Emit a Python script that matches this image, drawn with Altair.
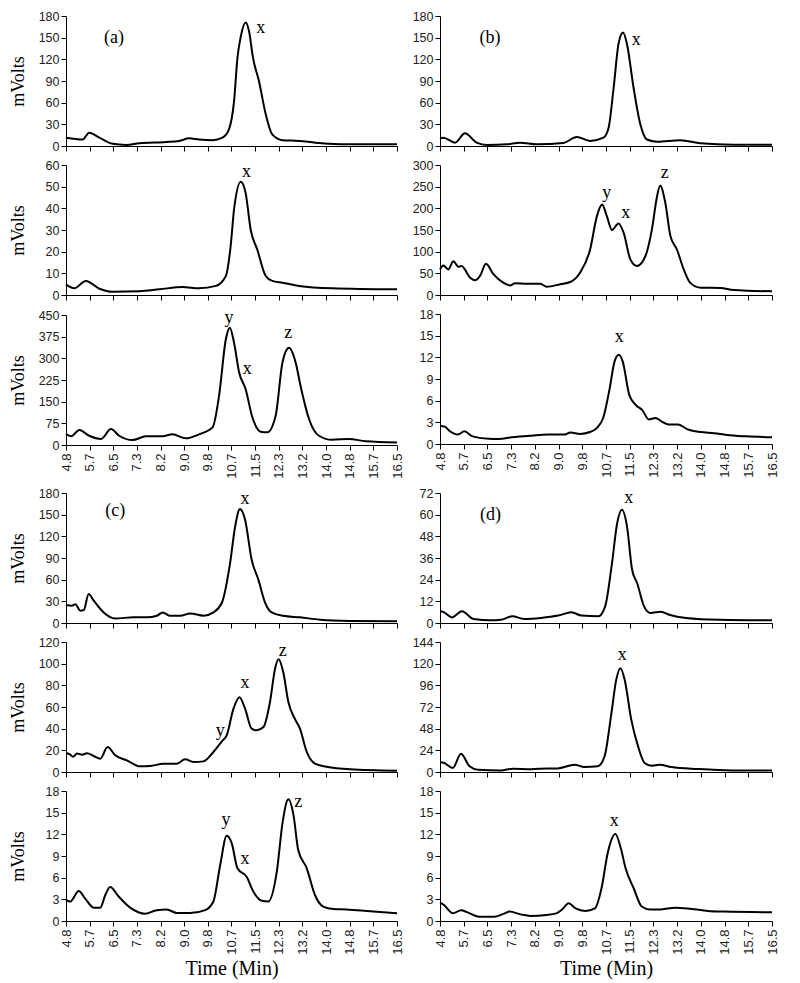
import altair as alt
import pandas as pd

# ---------------- data ----------------
X_LABELS = ["4.8", "5.7", "6.5", "7.3", "8.2", "9.0", "9.8", "10.7",
            "11.5", "12.3", "13.2", "14.0", "14.8", "15.7", "16.5"]
X_MIN, X_MAX = 4.8, 16.5

a1_t = [4.8, 5.39, 5.62, 5.98, 6.45, 6.92, 7.39, 8.33, 8.8, 9.15, 9.5, 9.98, 10.33, 10.56, 10.74, 10.86, 10.98, 11.15, 11.27, 11.41, 11.62, 11.86, 12.09, 12.45, 13.04, 13.62, 14.8, 16.5]
a1_v = [11.5, 9, 18.5, 11.5, 3, 1.5, 3.7, 5.5, 7, 10.6, 9, 8, 11.5, 23, 62, 122, 152, 171, 159, 122, 90, 44, 16, 8, 7, 4.6, 2.3, 2.3]

a2_t = [4.8, 5.09, 5.5, 5.98, 6.45, 7.39, 8.1, 8.92, 9.5, 10.1, 10.45, 10.62, 10.74, 10.98, 11.15, 11.33, 11.56, 11.86, 12.09, 12.45, 13.04, 14.21, 16.5]
a2_v = [4.9, 3.1, 6.5, 2.9, 1.5, 1.7, 2.6, 3.7, 3.1, 4.2, 8.8, 22.6, 39.5, 52.3, 47, 30, 21, 8.8, 6.5, 5.7, 4.2, 3.1, 2.6]

a3_t = [4.8, 4.98, 5.27, 5.62, 6.04, 6.39, 6.68, 7.15, 7.62, 8.21, 8.56, 9.04, 9.5, 9.98, 10.21, 10.45, 10.59, 10.74, 10.92, 11.15, 11.39, 11.68, 11.92, 12.21, 12.45, 12.68, 12.92, 13.09, 13.39, 13.74, 14.21, 14.8, 15.39, 16.5]
a3_v = [38, 30, 52, 32, 21, 55, 32, 17, 30, 30, 37, 23, 37, 61, 170, 366, 406, 354, 251, 193, 95, 46, 44, 101, 285, 337, 285, 205, 90, 32, 18, 21, 13, 9]

b1_t = [4.8, 4.92, 5.33, 5.68, 6.09, 6.45, 7.15, 7.62, 8.21, 9.15, 9.62, 10.09, 10.56, 10.74, 10.92, 11.09, 11.25, 11.39, 11.62, 11.86, 12.09, 12.45, 13.27, 13.98, 15.15, 16.5]
b1_v = [10.6, 11.5, 4.6, 17.5, 4.6, 1.4, 2.3, 4.6, 2.3, 4.2, 12.5, 7, 11.5, 25, 81, 141, 157, 141, 81, 30, 9, 6, 8, 3.7, 1.8, 1.8]

b2_t = [4.8, 4.92, 5.09, 5.27, 5.45, 5.56, 5.86, 6.04, 6.21, 6.42, 6.68, 7.04, 7.27, 7.45, 7.86, 8.33, 8.56, 9.04, 9.39, 9.74, 10.09, 10.33, 10.51, 10.68, 10.86, 11.09, 11.27, 11.51, 11.74, 12.04, 12.27, 12.45, 12.56, 12.74, 12.92, 13.15, 13.39, 13.62, 13.98, 14.68, 15.15, 16.5]
b2_v = [59, 68, 59, 78, 65, 67, 40, 34, 44, 72, 48, 28, 22, 27, 26, 26, 19, 25, 30, 52, 105, 182, 209, 182, 150, 165, 144, 82, 67, 90, 152, 228, 252, 213, 136, 105, 59, 28, 17, 16, 11.5, 8.5]

b3_t = [4.8, 4.97, 5.14, 5.43, 5.66, 5.95, 6.52, 6.87, 7.33, 8.02, 8.59, 9.17, 9.4, 9.74, 10.09, 10.32, 10.55, 10.78, 10.95, 11.1, 11.24, 11.47, 11.7, 11.93, 12.16, 12.39, 12.62, 12.85, 13.19, 13.54, 14.0, 14.46, 14.91, 15.6, 16.5]
b3_v = [2.5, 2.4, 1.8, 1.3, 1.75, 1.06, 0.74, 0.7, 0.92, 1.15, 1.3, 1.3, 1.6, 1.4, 1.66, 2.2, 3.6, 7.7, 11.4, 12.35, 11.4, 6.8, 5.4, 4.7, 3.4, 3.6, 3.1, 2.7, 2.7, 2.0, 1.66, 1.5, 1.25, 1.06, 0.92]

c1_t = [4.8, 5.01, 5.13, 5.31, 5.43, 5.6, 5.78, 6.13, 6.54, 7.19, 7.66, 8.01, 8.22, 8.48, 8.84, 9.19, 9.66, 10.01, 10.31, 10.6, 10.78, 10.95, 11.13, 11.36, 11.6, 11.84, 12.07, 12.48, 13.07, 13.78, 14.84, 16.5]
c1_v = [24.8, 24, 26, 17, 18, 40, 31, 14.7, 6.4, 7.8, 7.8, 10, 14.7, 10, 10, 13.3, 10, 14.7, 28, 83, 134, 158, 143, 88, 60, 28, 14.7, 10, 7.8, 4.6, 2.8, 2.3]

c2_t = [4.8, 4.95, 5.05, 5.19, 5.37, 5.54, 5.78, 6.01, 6.27, 6.54, 6.95, 7.42, 7.77, 8.25, 8.72, 9.01, 9.31, 9.66, 10.01, 10.31, 10.48, 10.72, 10.93, 11.13, 11.36, 11.54, 11.78, 12.01, 12.19, 12.31, 12.48, 12.66, 12.89, 13.07, 13.31, 13.6, 14.01, 14.84, 16.5]
c2_v = [17.5, 16, 14, 17, 16, 17.2, 14.8, 12.3, 23, 15.4, 10.8, 5.2, 5.5, 7.7, 7.7, 11.7, 9.2, 9.8, 18.5, 28.3, 33.8, 58.5, 69, 58.5, 40, 38.5, 41.5, 64.6, 95.4, 104, 92, 64.6, 49, 40, 18.5, 7.7, 4.9, 2.5, 1.2]

c3_t = [4.8, 4.95, 5.25, 5.48, 5.78, 6.01, 6.19, 6.36, 6.66, 7.07, 7.6, 8.01, 8.36, 8.72, 9.19, 9.72, 10.01, 10.25, 10.48, 10.66, 10.86, 11.19, 11.42, 11.72, 11.95, 12.25, 12.46, 12.66, 12.84, 13.01, 13.31, 13.6, 13.89, 14.25, 14.72, 15.43, 16.5]
c3_v = [2.9, 2.7, 4.15, 3.1, 1.85, 1.85, 3.6, 4.7, 3.4, 1.85, 1.0, 1.5, 1.6, 1.1, 1.1, 1.5, 2.7, 7.75, 11.8, 10.75, 7.3, 6.1, 4.1, 2.8, 2.7, 6.8, 13.75, 16.85, 14.7, 9.8, 7.3, 3.6, 2.0, 1.66, 1.6, 1.4, 1.06]

d1_t = [4.8, 4.92, 5.22, 5.57, 5.99, 6.58, 6.94, 7.35, 7.77, 8.36, 8.96, 9.43, 9.79, 10.38, 10.62, 10.86, 11.04, 11.21, 11.39, 11.57, 11.75, 11.99, 12.22, 12.58, 12.88, 13.47, 14.66, 16.5]
d1_v = [6.5, 6.1, 3.1, 6.5, 2.2, 1.5, 1.8, 3.7, 2.2, 2.8, 4.1, 5.9, 4.1, 3.7, 9.2, 33, 55, 62.7, 53.5, 29.5, 22, 9.2, 5.5, 6.3, 4.6, 2.8, 1.8, 1.5]

d2_t = [4.8, 4.95, 5.25, 5.54, 5.84, 6.13, 6.95, 7.36, 8.01, 8.6, 8.95, 9.54, 9.89, 10.36, 10.6, 10.84, 11.01, 11.16, 11.31, 11.54, 11.78, 12.01, 12.25, 12.54, 12.95, 13.89, 15.07, 16.5]
d2_v = [10.7, 10, 4.4, 20.3, 6.3, 2.6, 1.8, 3.7, 3, 4, 4, 8.1, 5.5, 6.3, 17.4, 65, 102, 115, 102, 58, 28.4, 10, 7, 8.1, 5.5, 3.3, 1.8, 1.8]

d3_t = [4.8, 4.91, 5.26, 5.54, 5.77, 6.17, 6.73, 7.08, 7.25, 7.64, 7.99, 8.55, 8.9, 9.12, 9.33, 9.58, 9.92, 10.26, 10.49, 10.72, 10.98, 11.17, 11.34, 11.63, 11.91, 12.19, 12.54, 13.1, 13.67, 14.24, 14.8, 16.5]
d3_v = [2.5, 2.3, 1.06, 1.5, 1.2, 0.6, 0.6, 1.06, 1.3, 0.92, 0.7, 0.83, 1.06, 1.66, 2.45, 1.75, 1.4, 1.75, 4.5, 9.6, 12.05, 10.1, 7.3, 4.5, 2.0, 1.6, 1.6, 1.85, 1.66, 1.4, 1.3, 1.2]

# y-axis maximum and tick step of each panel
Y_MAX = {"a1": 180, "a2": 60, "a3": 450, "b1": 180, "b2": 300, "b3": 18,
         "c1": 180, "c2": 120, "c3": 18, "d1": 72, "d2": 144, "d3": 18}
Y_STEP = {"a1": 30, "a2": 10, "a3": 75, "b1": 30, "b2": 50, "b3": 3,
          "c1": 30, "c2": 20, "c3": 3, "d1": 12, "d2": 24, "d3": 3}

# peak annotations: (time, value, label)
NOTES = {
    "a1": [(11.68, 164, "x")],
    "a2": [(11.18, 57, "x")],
    "a3": [(10.56, 440, "y"), (11.21, 262, "x"), (12.66, 388, "z")],
    "b1": [(11.72, 147, "x")],
    "b2": [(10.68, 236, "y"), (11.35, 190, "x"), (12.72, 282, "z")],
    "b3": [(11.12, 14.8, "x")],
    "c1": [(11.13, 172, "x")],
    "c2": [(10.25, 38, "y"), (11.13, 82, "x"), (12.46, 112, "z")],
    "c3": [(10.46, 14.0, "y"), (11.13, 8.6, "x"), (13.01, 16.5, "z")],
    "d1": [(11.45, 69, "x")],
    "d2": [(11.22, 130, "x")],
    "d3": [(10.94, 13.9, "x")],
}
# panel tags: (time, value, label)
TAGS = {"a1": (6.5, 150, "(a)"), "b1": (6.56, 150, "(b)"),
        "c1": (6.54, 155, "(c)"), "d1": (6.58, 60, "(d)")}

SERIES = {"a1": (a1_t, a1_v), "a2": (a2_t, a2_v), "a3": (a3_t, a3_v),
          "b1": (b1_t, b1_v), "b2": (b2_t, b2_v), "b3": (b3_t, b3_v),
          "c1": (c1_t, c1_v), "c2": (c2_t, c2_v), "c3": (c3_t, c3_v),
          "d1": (d1_t, d1_v), "d2": (d2_t, d2_v), "d3": (d3_t, d3_v)}

# ---------------- chart ----------------
N_TICKS = len(X_LABELS)
STEP_X = (X_MAX - X_MIN) / (N_TICKS - 1)
TICK_VALUES = [X_MIN + i * STEP_X for i in range(N_TICKS)]
LABEL_EXPR = "[" + ",".join("'%s'" % s for s in X_LABELS) + "][round((datum.value - %f) / %f)]" % (X_MIN, STEP_X)

SERIF = "Liberation Serif"
SANS = "Liberation Sans"
PANEL_H = 130


def panel(name, width, show_xlabels, y_title, x_title):
    t, v = SERIES[name]
    df = pd.DataFrame({"t": t, "v": v})
    ymax, ystep = Y_MAX[name], Y_STEP[name]
    yvals = [ystep * i for i in range(int(round(ymax / ystep)) + 1)]

    xaxis_kw = dict(values=TICK_VALUES, labels=show_xlabels, ticks=True,
                    labelExpr=LABEL_EXPR, labelAngle=270, labelFontSize=13,
                    labelPadding=3, titleFontSize=20, titlePadding=4)
    xenc = dict(scale=alt.Scale(domain=[X_MIN, X_MAX], nice=False, zero=False),
                axis=alt.Axis(**xaxis_kw))
    if x_title:
        xenc["title"] = x_title
    else:
        xenc["title"] = None
    yaxis_kw = dict(values=yvals, labelFontSize=12.5, minExtent=30, maxExtent=30,
                    titleFontSize=18, titlePadding=9)
    yenc = dict(scale=alt.Scale(domain=[0, ymax], nice=False),
                axis=alt.Axis(**yaxis_kw))
    if y_title:
        yenc["title"] = y_title
    else:
        yenc["title"] = None

    line = alt.Chart(df).mark_line(color="black", strokeWidth=2,
                                   interpolate="monotone").encode(
        x=alt.X("t:Q", **xenc), y=alt.Y("v:Q", **yenc))

    notes = NOTES[name]
    ndf = pd.DataFrame({"t": [n[0] for n in notes], "v": [n[1] for n in notes],
                        "s": [n[2] for n in notes]})
    txt = alt.Chart(ndf).mark_text(font=SERIF, fontSize=18, color="black",
                                   baseline="middle", align="center").encode(
        x=alt.X("t:Q", **xenc), y=alt.Y("v:Q", **yenc), text="s:N")
    layers = [line, txt]
    if name in TAGS:
        tg = TAGS[name]
        tdf = pd.DataFrame({"t": [tg[0]], "v": [tg[1]], "s": [tg[2]]})
        layers.append(alt.Chart(tdf).mark_text(font=SERIF, fontSize=18, color="black",
                                               baseline="middle", align="center").encode(
            x=alt.X("t:Q", **xenc), y=alt.Y("v:Q", **yenc), text="s:N"))
    return alt.layer(*layers).properties(width=width, height=PANEL_H)


def column(names, width, y_title, x_title):
    ps = []
    for i, n in enumerate(names):
        last = i == len(names) - 1
        ps.append(panel(n, width, last, y_title, x_title if last else None))
    return alt.vconcat(*ps, spacing=6)


group1 = alt.hconcat(column(["a1", "a2", "a3"], 331, "mVolts", None),
                     column(["b1", "b2", "b3"], 332, None, None), spacing=6)
group2 = alt.hconcat(column(["c1", "c2", "c3"], 331, "mVolts", "Time (Min)"),
                     column(["d1", "d2", "d3"], 332, None, "Time (Min)"), spacing=6)

chart = alt.vconcat(group1, group2, spacing=8).properties(
    padding={"left": 1, "top": 2, "right": 5, "bottom": 5}
).configure_view(stroke=None).configure_axis(
    grid=False, domainColor="black", tickColor="black", domainWidth=1,
    tickWidth=1, tickSize=5, labelColor="#222", labelFont=SANS,
    titleFont=SERIF, titleFontWeight="normal", titleColor="black"
).configure_concat(spacing=6)

chart.save("out.html", embed_options={"renderer": "svg", "actions": False})
